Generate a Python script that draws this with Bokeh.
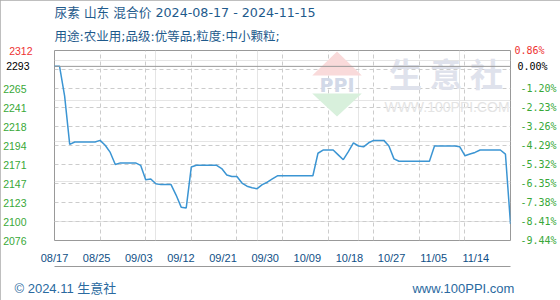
from bokeh.plotting import figure
from bokeh.models import Range1d, LinearAxis, FixedTicker, Grid, Span, Title
from bokeh.core.properties import value
from bokeh.embed import file_html
from bokeh.resources import INLINE

# ---------------- data ----------------
title_text = "尿素 山东 混合价 2024-08-17 - 2024-11-15"
subtitle_text = "用途:农业用;品级:优等品;粒度:中小颗粒;"
footer_left = "© 2024.11 生意社"
footer_right = "www.100PPI.com"

base_price = 2293
# daily prices 2024-08-17 .. 2024-11-15
prices = [
    2293, 2293, 2256, 2196, 2199, 2199, 2199, 2199, 2199, 2201,
    2195, 2186, 2171, 2173, 2173, 2173, 2173, 2170, 2152, 2153,
    2147, 2146, 2146, 2146, 2133, 2118, 2117, 2168, 2170, 2170,
    2170, 2170, 2170, 2166, 2158, 2156, 2156, 2148, 2144, 2142,
    2141, 2146, 2149, 2153, 2157, 2157, 2157, 2157, 2157, 2157,
    2157, 2157, 2185, 2189, 2189, 2189, 2183, 2177, 2187, 2198,
    2194, 2193, 2198, 2201, 2201, 2201, 2194, 2178, 2175, 2175,
    2175, 2175, 2175, 2175, 2175, 2194, 2194, 2194, 2194, 2194,
    2193, 2182, 2184, 2186, 2189, 2189, 2189, 2189, 2189, 2184,
    2097,
]
days = list(range(len(prices)))

date_labels = ["08/17", "08/25", "09/03", "09/12", "09/21", "09/30",
               "10/09", "10/18", "10/27", "11/05", "11/14"]
grid_days = list(range(0, 91, 9))

pct_ticks = [0.86, -0.17, -1.20, -2.23, -3.26, -4.29, -5.32, -6.35, -7.38, -8.41, -9.44]
left_labels = ["2312", "", "2265", "2241", "2218", "2194", "2171", "2147", "2123", "2100", "2076"]
right_labels = ["0.86%", "", "-1.20%", "-2.23%", "-3.26%", "-4.29%", "-5.32%",
                "-6.35%", "-7.38%", "-8.41%", "-9.44%"]
base_label_left = "2293"
base_label_right = "0.00%"

# ---------------- layout constants ----------------
W, H = 560, 300
FL, FR, FT, FB = 50, 510, 50, 240
GREEN = "#38a838"
RED = "#ee3333"
BLUE_T = "#1e5a8c"
LINE_C = "#3b95d3"
CJK = "DejaVu Sans, Noto Sans CJK SC"
NUM_FONT = "Liberation Sans"
PCT_FONT = "DejaVu Sans Mono"

tick_vals = [base_price * (1 + p / 100.0) for p in pct_ticks]
Y1, Y0 = tick_vals[0], tick_vals[-1]
X0, X1 = days[0], days[-1]


def xd(px):
    return X0 + (px - FL) / (FR - FL) * (X1 - X0)


def yd(py):
    return Y1 - (py - FT) / (FB - FT) * (Y1 - Y0)


p = figure(width=W, height=H, output_backend="svg", toolbar_location=None,
           x_range=Range1d(X0, X1), y_range=Range1d(Y0, Y1),
           x_axis_location=None, y_axis_location=None,
           min_border_left=FL, min_border_right=W - FR,
           min_border_top=FT, min_border_bottom=H - FB,
           title=title_text)
p.outline_line_color = "#999999"
p.outline_line_width = 1
p.background_fill_color = "white"
p.border_fill_color = "white"
p.styles = {"outline": "1px solid #aaaaaa", "outline-offset": "-1px"}

# header (two title lines)
p.title.align = "left"
p.title.text_font = CJK
p.title.text_font_size = "12.7px"
p.title.text_font_style = "normal"
p.title.text_color = BLUE_T
p.title.standoff = 1
p.add_layout(Title(text=subtitle_text, align="left", text_font=CJK, text_font_size="12.5px",
                   text_font_style="normal", text_color=BLUE_T, standoff=13), "above")

# grids
p.add_layout(Grid(dimension=0, ticker=FixedTicker(ticks=grid_days),
                  grid_line_color="#cccccc", grid_line_dash="4 3", grid_line_width=1))
p.add_layout(Grid(dimension=1, ticker=FixedTicker(ticks=tick_vals),
                  grid_line_color="#cccccc", grid_line_dash="4 3", grid_line_width=1))


def make_axis(ticks, labels, color, font, size, standoff, **kw):
    ax = LinearAxis(ticker=FixedTicker(ticks=ticks),
                    major_label_overrides=dict(zip(ticks, labels)), **kw)
    ax.axis_line_color = None
    ax.major_tick_line_color = None
    ax.minor_tick_line_color = None
    ax.major_tick_in = 0
    ax.major_tick_out = 0
    ax.minor_tick_in = 0
    ax.minor_tick_out = 0
    ax.major_label_text_color = color
    ax.major_label_text_font = font
    ax.major_label_text_font_size = size
    ax.major_label_standoff = standoff
    return ax


green_ticks = tick_vals[2:]

# left side: red top label next to the frame, then black and green pulled back in place
p.add_layout(make_axis([tick_vals[0]], [left_labels[0]], RED, NUM_FONT, "10.5px", 22), "left")
p.add_layout(make_axis([base_price], [base_label_left], "black", NUM_FONT, "10.5px", -23), "left")
p.add_layout(make_axis(green_ticks, left_labels[2:], GREEN, NUM_FONT, "10.5px", -23), "left")

# right side
p.add_layout(make_axis([tick_vals[0]], [right_labels[0]], RED, PCT_FONT, "10px", 4), "right")
p.add_layout(make_axis([base_price], [base_label_right], "black", PCT_FONT, "10px", -30), "right")
p.add_layout(make_axis(green_ticks, right_labels[2:], GREEN, PCT_FONT, "10px", -30), "right")

# date labels (evenly spread, as in the source chart)
p.extra_x_ranges = {"lab": Range1d(0, (len(date_labels) - 1) * (FR - FL) / 425.0),
                    "foot": Range1d(FL, FR)}
date_axis = make_axis(list(range(len(date_labels))), date_labels, "#0f4f86", NUM_FONT, "11px", 11,
                      x_range_name="lab")
p.add_layout(date_axis, "below")

# footer line + texts
foot_axis = make_axis([61, 462.5], [footer_left, footer_right], "#2a6aa0",
                      "Liberation Sans, Noto Sans CJK SC", "13px", 14, x_range_name="foot")
foot_axis.axis_line_color = "#999999"
foot_axis.axis_line_width = 1
p.add_layout(foot_axis, "below")

# watermark
p.patch([xd(310), xd(335), xd(360)], [yd(75), yd(51), yd(75)],
        fill_color="#f9dada", line_color=None)
p.patch([xd(310), xd(360), xd(335)], [yd(93), yd(93), yd(116)],
        fill_color="#d8f0dc", line_color=None)
p.text(x=[xd(335)], y=[yd(84)], text=["PPI"], text_font=value("DejaVu Sans"),
       text_font_size="19px", text_font_style="bold", text_color="#d2d9e8",
       text_align="center", text_baseline="middle")
p.text(x=[xd(445)], y=[yd(72)], text=["生 意 社"], text_font=value("Noto Sans CJK SC"),
       text_font_size="33px", text_font_style="bold", text_color="#dfe2ec",
       text_align="center", text_baseline="middle")
p.text(x=[xd(446)], y=[yd(106)], text=["WWW.100PPI.COM"], text_font=value("Liberation Sans"),
       text_font_size="14px", text_color="#e4e4e4",
       text_align="center", text_baseline="middle")

# base line and price line
p.add_layout(Span(location=base_price, dimension="width", line_color="#999999", line_width=1))
p.line(days, prices, line_color=LINE_C, line_width=1.5)

open("out.html", "w").write(file_html(p, INLINE))
